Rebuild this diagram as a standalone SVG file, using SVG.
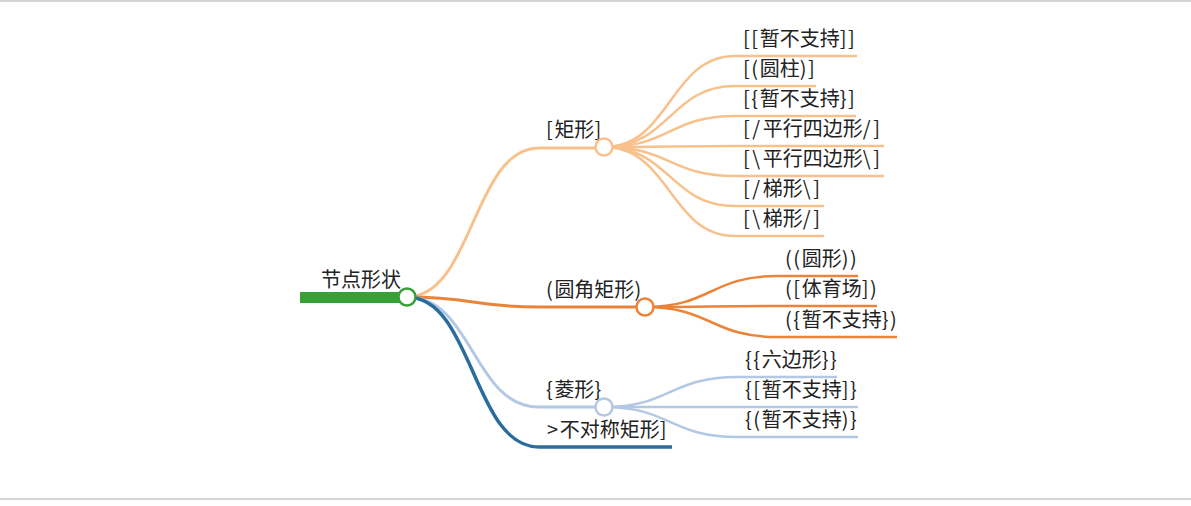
<svg xmlns="http://www.w3.org/2000/svg" width="1191" height="506" viewBox="0 0 1191 506">
<style>
text{font-family:"Noto Sans CJK SC","DejaVu Sans",sans-serif;font-size:20px;fill:#222}
.b{letter-spacing:1.6px}
.s{letter-spacing:2.6px}
.l{fill:none;stroke-linecap:butt}
.c1{stroke:#f8c18c}.c2{stroke:#ea843a}.c3{stroke:#b2c8e4}.c4{stroke:#2b6c9e}.c0{stroke:#37a037}
.w1{stroke-width:3}.w2{stroke-width:2.5}
circle{fill:#fff;stroke-width:2.5}
</style>
<rect x="0" y="0" width="1191" height="2" fill="#d4d4d4"/>
<rect x="0" y="498" width="1191" height="2" fill="#d4d4d4"/>
<g id="connectors">
<path class="l c1 w1" d="M407,297 C473,297 473,148 539,148"/>
<path class="l c2 w1" d="M407,297 C473,297 473,307 539,307"/>
<path class="l c3 w1" d="M407,297 C473,297 473,407 539,407"/>
<path class="l c4" stroke-width="3.5" d="M407,297 C473,297 473,447 539,447"/>
<path class="l c1 w2" d="M604,147 C670,147 670,56 735,56"/>
<path class="l c1 w2" d="M604,147 C670,147 670,86 735,86"/>
<path class="l c1 w2" d="M604,147 C670,147 670,116 735,116"/>
<path class="l c1 w2" d="M604,147 C670,147 670,146 735,146"/>
<path class="l c1 w2" d="M604,147 C670,147 670,176 735,176"/>
<path class="l c1 w2" d="M604,147 C670,147 670,206 735,206"/>
<path class="l c1 w2" d="M604,147 C670,147 670,236 735,236"/>
<path class="l c2 w2" d="M645,307 C711,307 711,276 777,276"/>
<path class="l c2 w2" d="M645,307 C711,307 711,306 777,306"/>
<path class="l c2 w2" d="M645,307 C711,307 711,337 777,337"/>
<path class="l c3 w2" d="M604,407 C670,407 670,377 737,377"/>
<path class="l c3 w2" d="M604,407 C670,407 670,407 737,407"/>
<path class="l c3 w2" d="M604,407 C670,407 670,437 737,437"/>
</g>
<g id="root">
<path class="l c0" stroke-width="11" d="M300,297.5 H400"/>
<text x="321" y="287">节点形状</text>
<circle class="c0" cx="407" cy="297" r="8.5"/>
</g>
<g id="n-rect">
<path class="l c1 w1" d="M539,148 H596"/>
<text x="546" y="137"><tspan class="b">[</tspan>矩形<tspan class="b">]</tspan></text>
<circle class="c1" cx="604" cy="147" r="8.5"/>
</g>
<g id="n-rect-1"><path class="l c1 w2" d="M735,56 H857"/><text x="743" y="46"><tspan class="b">[[</tspan>暂不支持<tspan class="b">]]</tspan></text></g>
<g id="n-rect-2"><path class="l c1 w2" d="M735,86 H816"/><text x="743" y="76"><tspan class="b">[(</tspan>圆柱<tspan class="b">)]</tspan></text></g>
<g id="n-rect-3"><path class="l c1 w2" d="M735,116 H856"/><text x="743" y="106"><tspan class="b">[{</tspan>暂不支持<tspan class="b">}]</tspan></text></g>
<g id="n-rect-4"><path class="l c1 w2" d="M735,146 H884"/><text x="743" y="136"><tspan class="s">[/</tspan>平行四边形<tspan class="s">/]</tspan></text></g>
<g id="n-rect-5"><path class="l c1 w2" d="M735,176 H884"/><text x="743" y="166"><tspan class="s">[\</tspan>平行四边形<tspan class="s">\]</tspan></text></g>
<g id="n-rect-6"><path class="l c1 w2" d="M735,206 H824"/><text x="743" y="196"><tspan class="s">[/</tspan>梯形<tspan class="s">\]</tspan></text></g>
<g id="n-rect-7"><path class="l c1 w2" d="M735,236 H824"/><text x="743" y="226"><tspan class="s">[\</tspan>梯形<tspan class="s">/]</tspan></text></g>
<g id="n-round">
<path class="l c2 w1" d="M539,307 H637"/>
<text x="546" y="297"><tspan class="b">(</tspan>圆角矩形<tspan class="b">)</tspan></text>
<circle class="c2" cx="645" cy="307" r="8.5"/>
</g>
<g id="n-round-1"><path class="l c2 w2" d="M777,276 H858"/><text x="785" y="266"><tspan class="b">((</tspan>圆形<tspan class="b">))</tspan></text></g>
<g id="n-round-2"><path class="l c2 w2" d="M777,306 H877"/><text x="785" y="296"><tspan class="b">([</tspan>体育场<tspan class="b">])</tspan></text></g>
<g id="n-round-3"><path class="l c2 w2" d="M777,337 H897"/><text x="785" y="327"><tspan class="b">({</tspan>暂不支持<tspan class="b">})</tspan></text></g>
<g id="n-rhombus">
<path class="l c3 w1" d="M539,407 H596"/>
<text x="546" y="397"><tspan class="b">{</tspan>菱形<tspan class="b">}</tspan></text>
<circle class="c3" cx="604" cy="407" r="8.5"/>
</g>
<g id="n-rhombus-1"><path class="l c3 w2" d="M737,377 H837"/><text x="745" y="367"><tspan class="b">{{</tspan>六边形<tspan class="b">}}</tspan></text></g>
<g id="n-rhombus-2"><path class="l c3 w2" d="M737,407 H858"/><text x="745" y="397"><tspan class="b">{[</tspan>暂不支持<tspan class="b">]}</tspan></text></g>
<g id="n-rhombus-3"><path class="l c3 w2" d="M737,437 H858"/><text x="745" y="427"><tspan class="b">{(</tspan>暂不支持<tspan class="b">)}</tspan></text></g>
<g id="n-asym">
<path class="l c4" stroke-width="3.5" d="M539,447 H672"/>
<text x="547" y="437"><tspan class="b">&gt;</tspan>不对称矩形<tspan class="b">]</tspan></text>
</g>
</svg>
